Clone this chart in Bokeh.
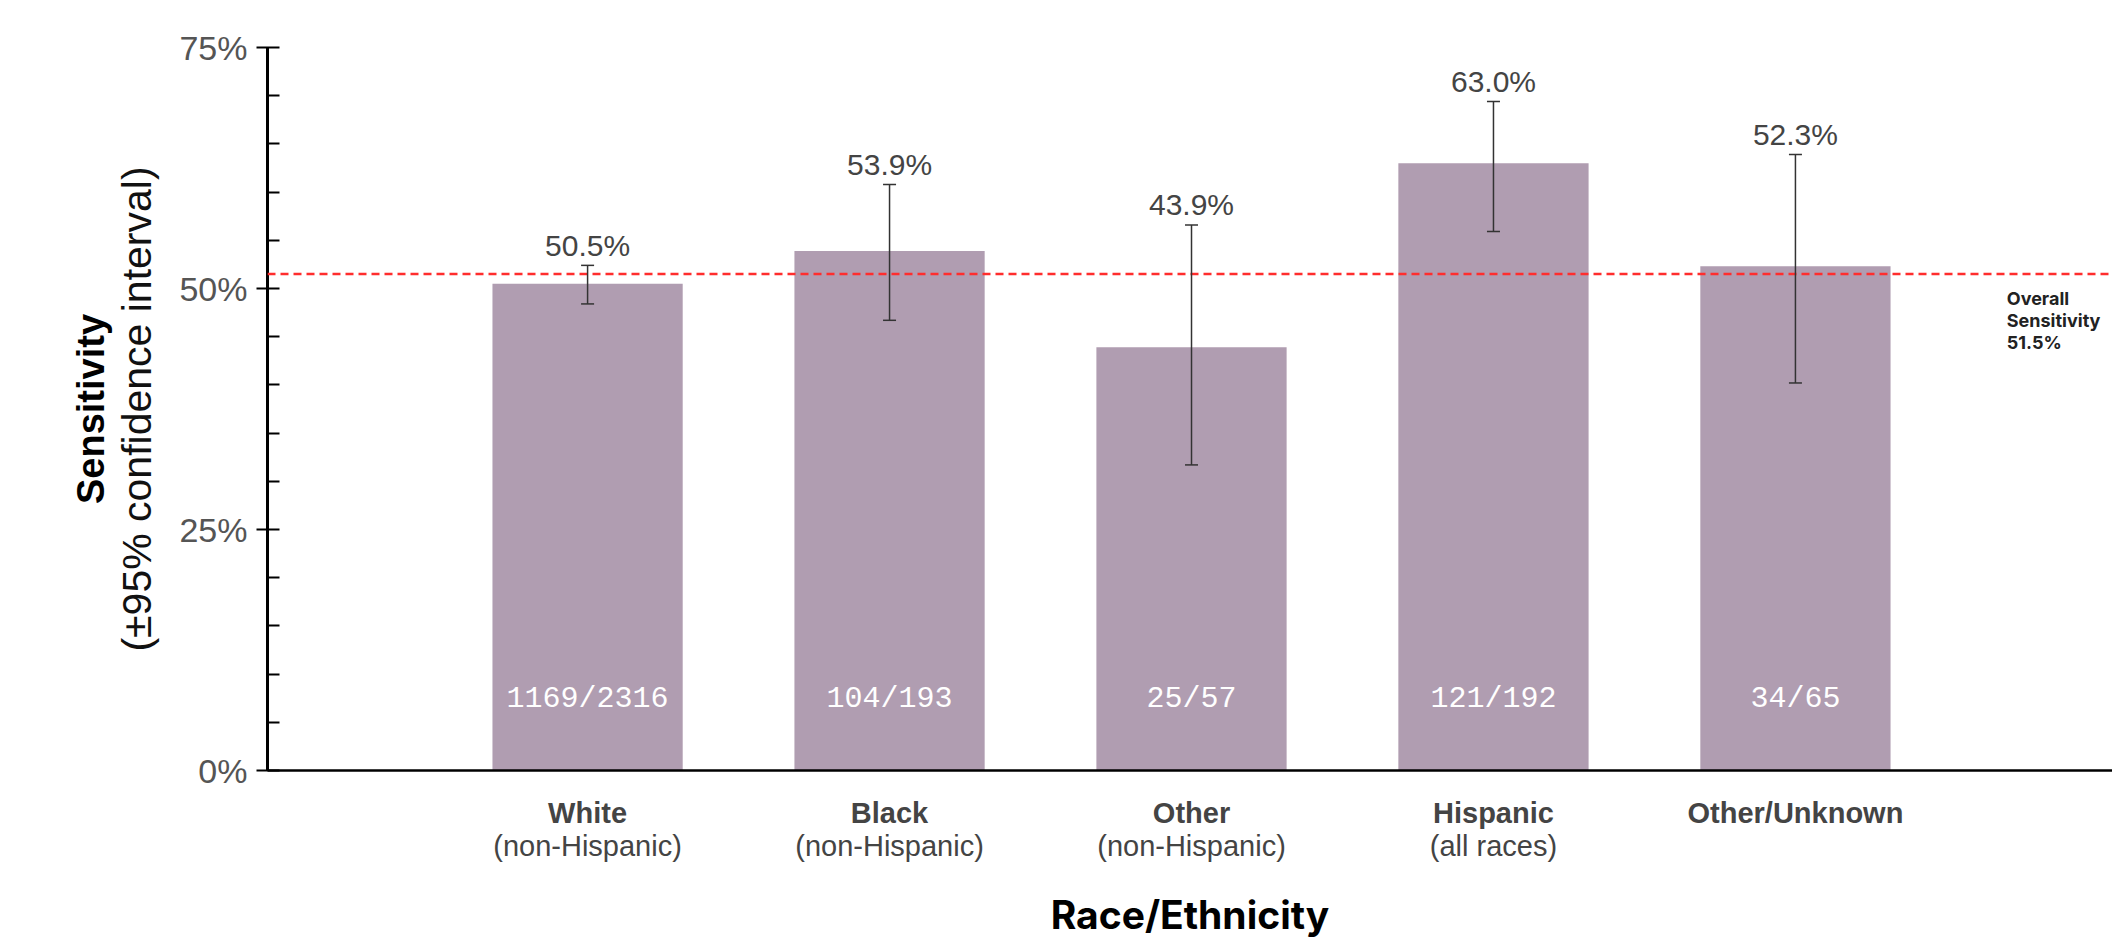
from bokeh.plotting import figure
from bokeh.models import Range1d, LinearAxis, FixedTicker, Whisker, TeeHead, ColumnDataSource, Span
from bokeh.core.properties import value
from bokeh.embed import file_html
from bokeh.resources import INLINE

# ---- data ----
categories_main = ["White", "Black", "Other", "Hispanic", "Other/Unknown"]
categories_sub = ["(non-Hispanic)", "(non-Hispanic)", "(non-Hispanic)", "(all races)", ""]
sensitivity = [50.5, 53.9, 43.9, 63.0, 52.3]
ci_low = [48.4, 46.7, 31.7, 55.9, 40.2]
ci_high = [52.4, 60.8, 56.6, 69.4, 63.9]
counts = ["1169/2316", "104/193", "25/57", "121/192", "34/65"]
overall_sensitivity = 51.5
y_ticks = [0, 25, 50, 75]
y_tick_labels = ["0%", "25%", "50%", "75%"]
y_minor_ticks = [5, 10, 15, 20, 30, 35, 40, 45, 55, 60, 65, 70]

x_pos = list(range(len(categories_main)))
src = ColumnDataSource(dict(
    x=x_pos,
    top=sensitivity,
    lo=ci_low,
    hi=ci_high,
    val=[f"{v:.1f}%" for v in sensitivity],
    counts=counts,
    zero=[0] * len(x_pos),
))

BAR = "#b09db1"
FONT = "Liberation Sans"

p = figure(width=2112, height=940,
           x_range=Range1d(-1.06, 5.05), y_range=Range1d(0, 75),
           output_backend="svg", toolbar_location=None,
           x_axis_type=None, y_axis_type=None,
           min_border_left=267, min_border_right=0,
           min_border_top=47, min_border_bottom=170)
p.outline_line_color = None
p.background_fill_color = "white"
p.border_fill_color = "white"

# bars
p.vbar(x="x", top="top", bottom=0, width=0.63, source=src,
       fill_color=BAR, line_color=None)

# overall sensitivity line
p.add_layout(Span(location=overall_sensitivity, dimension="width",
                  line_color="#ff2d2d", line_width=2.5, line_dash="8 5",
                  level="overlay"))

# error bars
w = Whisker(base="x", lower="lo", upper="hi", source=src,
            line_color="#333333", line_width=1.5, level="overlay",
            upper_head=TeeHead(size=13, line_color="#333333", line_width=1.5),
            lower_head=TeeHead(size=13, line_color="#333333", line_width=1.5))
p.add_layout(w)

# value labels above error bars
p.text(x="x", y="hi", text="val", source=src, text_align="center",
       text_baseline="alphabetic", y_offset=-20,
       text_font=value(FONT), text_font_size="30px", text_color="#444444")

# counts inside bars
p.text(x="x", y="zero", text="counts", source=src, text_align="center",
       text_baseline="alphabetic", y_offset=-72,
       text_font=value("Liberation Mono"), text_font_size="30px",
       text_color="#ffffff")

# overall annotation
p.text(x=[4.70], y=[overall_sensitivity],
       text=[f"Overall\nSensitivity\n{overall_sensitivity:.1f}%"],
       text_align="left", text_baseline="top", y_offset=14,
       text_font=value("Inter"), text_font_size="18px",
       text_font_style="bold", text_color="#222222", text_line_height=1.05)

# y axis (main)
yaxis = LinearAxis(
    ticker=FixedTicker(ticks=y_ticks, minor_ticks=y_minor_ticks),
    major_label_overrides={t: l for t, l in zip(y_ticks, y_tick_labels)},
    axis_label="(±95% confidence interval)",
)
yaxis.axis_line_width = 3
yaxis.axis_line_color = "black"
yaxis.major_tick_line_width = 2
yaxis.minor_tick_line_width = 2
yaxis.major_tick_in = 12
yaxis.major_tick_out = 11
yaxis.minor_tick_in = 12
yaxis.minor_tick_out = 0
yaxis.major_label_standoff = 9
yaxis.major_label_text_font = FONT
yaxis.major_label_text_font_size = "34px"
yaxis.major_label_text_color = "#555555"
yaxis.axis_label_text_font = FONT
yaxis.axis_label_text_font_size = "41px"
yaxis.axis_label_text_font_style = "normal"
yaxis.axis_label_text_color = "#111111"
yaxis.axis_label_standoff = 16
p.add_layout(yaxis, "left")

# y axis title (bold first line)
yaxis2 = LinearAxis(ticker=FixedTicker(ticks=[]), axis_label="Sensitivity")
yaxis2.axis_line_color = None
yaxis2.major_tick_line_color = None
yaxis2.minor_tick_line_color = None
yaxis2.major_tick_out = 0
yaxis2.major_label_standoff = 0
yaxis2.axis_label_standoff = 0
yaxis2.axis_label_text_font = FONT
yaxis2.axis_label_text_font_size = "38px"
yaxis2.axis_label_text_font_style = "bold"
yaxis2.axis_label_text_color = "#000000"
p.add_layout(yaxis2, "left")

# x axis: bold category names
xaxis = LinearAxis(ticker=FixedTicker(ticks=x_pos, minor_ticks=[]),
                   major_label_overrides={i: n for i, n in zip(x_pos, categories_main)})
xaxis.axis_line_width = 2.5
xaxis.axis_line_color = "black"
xaxis.major_tick_line_color = None
xaxis.minor_tick_line_color = None
xaxis.major_tick_in = 0
xaxis.major_tick_out = 0
xaxis.major_label_standoff = 26
xaxis.major_label_text_font = FONT
xaxis.major_label_text_font_size = "29px"
xaxis.major_label_text_font_style = "bold"
xaxis.major_label_text_color = "#444444"
p.add_layout(xaxis, "below")

# x axis: subtitles + axis title
xaxis2 = LinearAxis(ticker=FixedTicker(ticks=x_pos, minor_ticks=[]),
                    major_label_overrides={i: n for i, n in zip(x_pos, categories_sub)},
                    axis_label="Race/Ethnicity")
xaxis2.axis_line_color = None
xaxis2.major_tick_line_color = None
xaxis2.minor_tick_line_color = None
xaxis2.major_tick_in = 0
xaxis2.major_tick_out = 0
xaxis2.major_label_standoff = -2
xaxis2.major_label_text_font = FONT
xaxis2.major_label_text_font_size = "29px"
xaxis2.major_label_text_color = "#444444"
xaxis2.axis_label_standoff = 26
xaxis2.axis_label_text_font = "Inter"
xaxis2.axis_label_text_font_size = "39px"
xaxis2.axis_label_text_font_style = "bold"
xaxis2.axis_label_text_color = "#000000"
p.add_layout(xaxis2, "below")

open("out.html", "w").write(file_html(p, INLINE))
